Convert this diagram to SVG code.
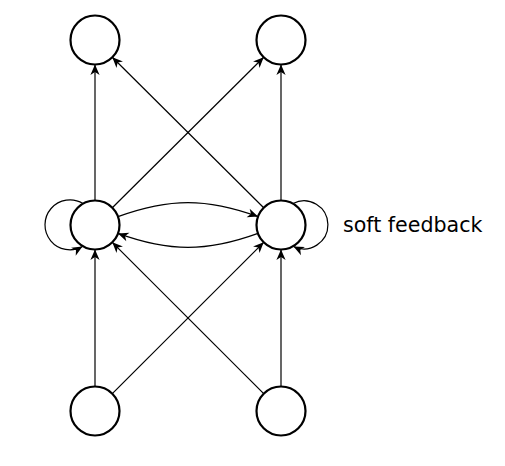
<svg xmlns="http://www.w3.org/2000/svg" width="505" height="466" viewBox="0 0 505 466">
<style>
.node{fill:#fff;stroke:#000;stroke-width:2.2}
.edge{fill:none;stroke:#000;stroke-width:1.2}
.lbl{font-family:"DejaVu Sans",sans-serif;font-size:20.6px;fill:#000}
</style>
<defs>
<marker id="arr" markerUnits="userSpaceOnUse" markerWidth="14" markerHeight="12" viewBox="-12 -6 14 12" refX="0" refY="0" orient="auto">
<path d="M0,0 L-10.5,-4.6 L-7.5,0 L-10.5,4.6 Z" fill="#000"/>
</marker>
</defs>
<rect width="505" height="466" fill="#fff"/>
<g id="connectors">
<line class="edge" x1="95" y1="386.5" x2="95" y2="249.5" marker-end="url(#arr)"/>
<line class="edge" x1="281" y1="386.5" x2="281" y2="249.5" marker-end="url(#arr)"/>
<line class="edge" x1="95" y1="200.5" x2="95" y2="64.5" marker-end="url(#arr)"/>
<line class="edge" x1="281" y1="200.5" x2="281" y2="64.5" marker-end="url(#arr)"/>
<line class="edge" x1="112.3" y1="393.7" x2="263.7" y2="242.3" marker-end="url(#arr)"/>
<line class="edge" x1="263.7" y1="393.7" x2="112.3" y2="242.3" marker-end="url(#arr)"/>
<line class="edge" x1="112.3" y1="207.7" x2="263.7" y2="57.3" marker-end="url(#arr)"/>
<line class="edge" x1="263.7" y1="207.7" x2="112.3" y2="57.3" marker-end="url(#arr)"/>
<path class="edge" d="M118,216.6 C169.5,197.9 206.5,197.9 258,216.6" marker-end="url(#arr)"/>
<path class="edge" d="M258,233.4 C206.5,252.1 169.5,252.1 118,233.4" marker-end="url(#arr)"/>
<path class="edge" d="M83,203.5 A25,25 0 1 0 82.5,246.5" marker-end="url(#arr)"/>
<path class="edge" d="M293,203.5 A24,24 0 1 1 293.5,246.5" marker-end="url(#arr)"/>
</g>
<g id="n_top_left"><circle class="node" cx="95" cy="40" r="24.5"/></g>
<g id="n_top_right"><circle class="node" cx="281" cy="40" r="24.5"/></g>
<g id="n_mid_left"><circle class="node" cx="95" cy="225" r="24.5"/></g>
<g id="n_mid_right"><circle class="node" cx="281" cy="225" r="24.5"/></g>
<g id="n_bot_left"><circle class="node" cx="95" cy="411" r="24.5"/></g>
<g id="n_bot_right"><circle class="node" cx="281" cy="411" r="24.5"/></g>
<g id="label"><text class="lbl" x="343" y="232">soft feedback</text></g>
</svg>
